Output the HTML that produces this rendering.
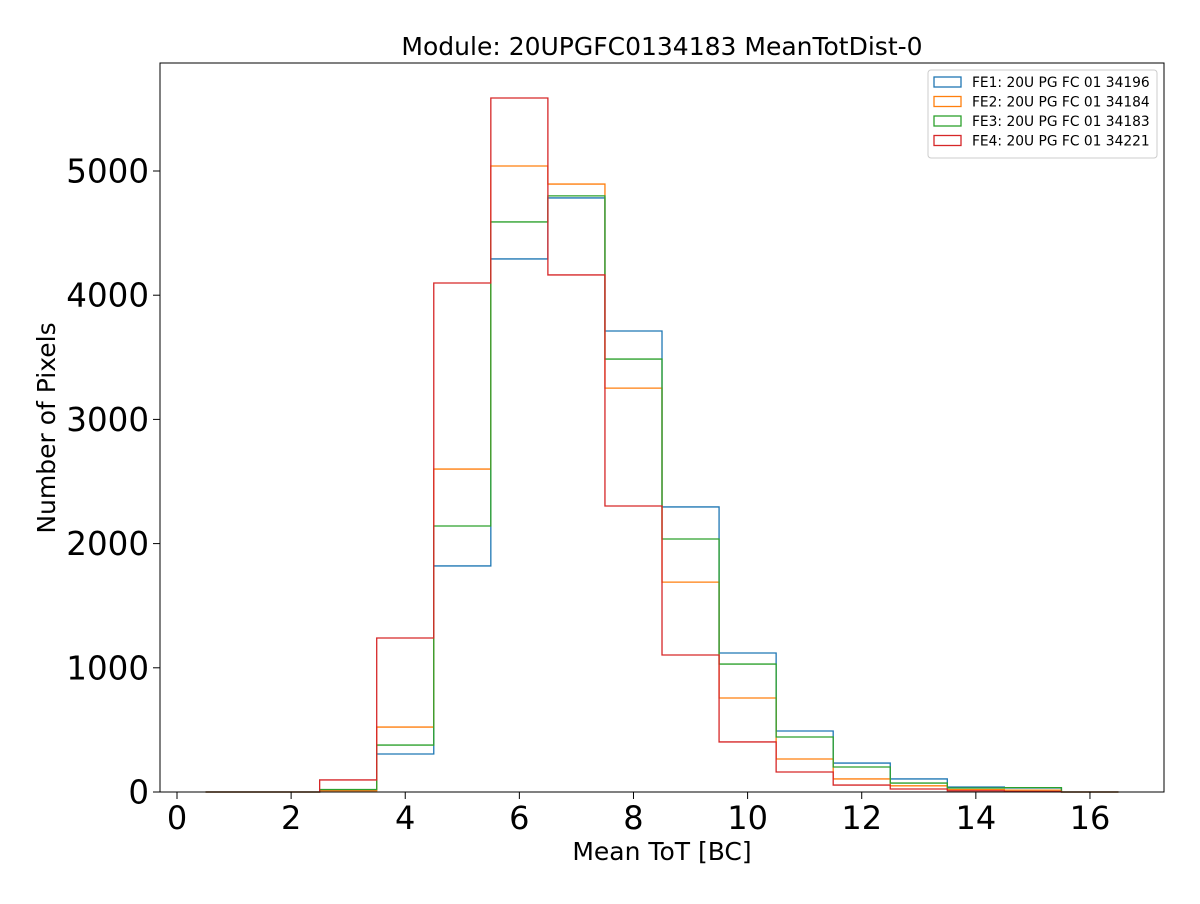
<!DOCTYPE html>
<html><head><meta charset="utf-8"><style>
body{margin:0;background:#fff;font-family:"DejaVu Sans","Liberation Sans",sans-serif}
</style></head><body>
<svg id="chart" width="1200" height="900" xmlns="http://www.w3.org/2000/svg" font-family="DejaVu Sans, Liberation Sans, sans-serif">
<rect width="1200" height="900" fill="#fff"/>
<text x="662" y="55" text-anchor="middle" font-size="25">Module: 20UPGFC0134183 MeanTotDist-0</text>
<g id="marks"></g>
<rect x="160" y="63" width="1004" height="729" fill="none" stroke="#000" stroke-width="1"/>
<g id="xticks"></g><g id="yticks"></g>
<text x="662" y="860" text-anchor="middle" font-size="25">Mean ToT [BC]</text>
<text transform="translate(55,428) rotate(-90)" text-anchor="middle" font-size="25">Number of Pixels</text>
<g id="legend"></g>
</svg>
<script>
const binEdges=[0.5,1.5,2.5,3.5,4.5,5.5,6.5,7.5,8.5,9.5,10.5,11.5,12.5,13.5,14.5,15.5,16.5];
const seriesNames=["FE1: 20U PG FC 01 34196","FE2: 20U PG FC 01 34184","FE3: 20U PG FC 01 34183","FE4: 20U PG FC 01 34221"];
const fe1=[0,0,15,306,1820,4292,4783,3712,2295,1119,491,233,105,40,32,0];
const fe2=[0,0,10,523,2600,5040,4895,3252,1690,757,266,105,50,20,15,0];
const fe3=[0,0,20,378,2142,4590,4800,3486,2037,1030,443,201,72,32,35,0];
const fe4=[0,0,97,1240,4098,5588,4163,2303,1103,403,161,56,24,10,5,0];
const xTicks=[0,2,4,6,8,10,12,14,16];
const yTicks=[0,1000,2000,3000,4000,5000];
const colors=["#1f77b4","#ff7f0e","#2ca02c","#d62728"];
const X=v=>177+v*57.06, Y=v=>792-v*0.1242;
const NS="http://www.w3.org/2000/svg";
function mk(t,a,p){const e=document.createElementNS(NS,t);for(const k in a)e.setAttribute(k,a[k]);p.appendChild(e);return e;}
const marks=document.getElementById('marks');
[fe1,fe2,fe3,fe4].forEach((s,i)=>{
 let d="M"+X(binEdges[0])+","+Y(0);
 s.forEach((v,j)=>{d+=" V"+Y(v)+" H"+X(binEdges[j+1]);});
 d+=" V"+Y(0);
 const p=mk('path',{d:d,fill:'none',stroke:colors[i],'stroke-width':1.3},marks);
 
 
});
const xt=document.getElementById('xticks');
xTicks.forEach(t=>{
 const l=mk('line',{x1:X(t),x2:X(t),y1:792,y2:799,stroke:'#000'},xt);
 
 
 const tx=mk('text',{x:X(t),y:829,'text-anchor':'middle','font-size':32},xt);tx.textContent=t;
 
 
});
const yt=document.getElementById('yticks');
yTicks.forEach(t=>{
 const l=mk('line',{x1:153,x2:160,y1:Y(t),y2:Y(t),stroke:'#000'},yt);
 
 
 const tx=mk('text',{x:149,y:Y(t)+11.5,'text-anchor':'end','font-size':32.5},yt);tx.textContent=t;
 
 
});
const lg=document.getElementById('legend');
const box=mk('rect',{x:928,y:70,width:229,height:88,rx:3,fill:'#fff',stroke:'#ccc'},lg);


seriesNames.forEach((n,i)=>{
 const y=82+i*19.5;
 const r=mk('rect',{x:934,y:y-5,width:27,height:10,fill:'none',stroke:colors[i],'stroke-width':1.3},lg);
 
 
 const tx=mk('text',{x:972,y:y+5,'font-size':13.8},lg);tx.textContent=n;
 
 
});
</script>
</body></html>
